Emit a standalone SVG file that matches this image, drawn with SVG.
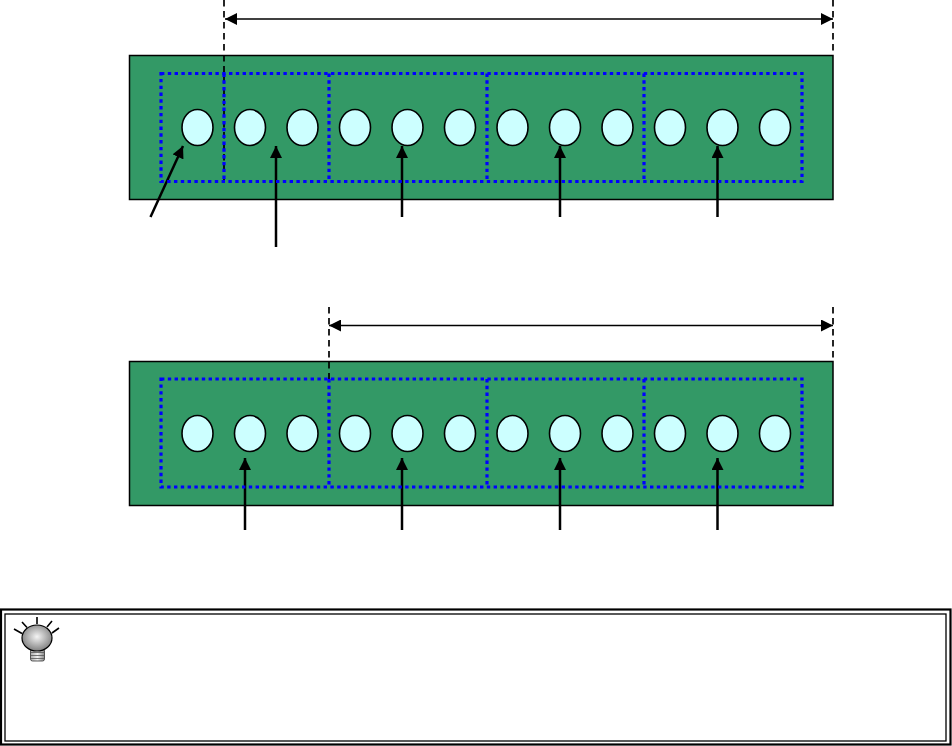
<svg xmlns="http://www.w3.org/2000/svg" width="952" height="746" viewBox="0 0 952 746">
<style>
.board{fill:#339966;stroke:#000;stroke-width:1.500}
.led{fill:#ccffff;stroke:#000;stroke-width:1.600}
.blue{fill:none;stroke:#0000ff;stroke-width:3.200;stroke-dasharray:3.400 3.400}
.dash{fill:none;stroke:#000;stroke-width:1.700;stroke-dasharray:6.500 4.500}
.dim{fill:none;stroke:#000;stroke-width:1.400;marker-start:url(#hs);marker-end:url(#he)}
.arr{fill:none;stroke:#000;stroke-width:2.500;marker-end:url(#ha)}
</style>
<defs>
<marker id="he" markerUnits="userSpaceOnUse" markerWidth="12" markerHeight="12" refX="12" refY="6" orient="auto"><path d="M0 0L12 6L0 12Z"/></marker>
<marker id="hs" markerUnits="userSpaceOnUse" markerWidth="12" markerHeight="12" refX="0" refY="6" orient="auto"><path d="M12 0L0 6L12 12Z"/></marker>
<marker id="ha" markerUnits="userSpaceOnUse" markerWidth="12" markerHeight="12" refX="12" refY="6" orient="auto"><path d="M0 0L12 6L0 12Z"/></marker>
<radialGradient id="bulb" cx="0.5" cy="0.45" r="0.55"><stop offset="0" stop-color="#f4f4f4"/><stop offset="1" stop-color="#808080"/></radialGradient>
<linearGradient id="base" x1="0" x2="1" y1="0" y2="0"><stop offset="0" stop-color="#aaa"/><stop offset="0.5" stop-color="#eee"/><stop offset="1" stop-color="#888"/></linearGradient>
</defs>
<g id="board-top">
<rect class="board" x="129.5" y="55.5" width="703.5" height="144"/>
<g id="leds-top">
<ellipse class="led" cx="197.5" cy="127.5" rx="15.5" ry="18"/><ellipse class="led" cx="250" cy="127.5" rx="15.5" ry="18"/><ellipse class="led" cx="302.5" cy="127.5" rx="15.5" ry="18"/><ellipse class="led" cx="355" cy="127.5" rx="15.5" ry="18"/><ellipse class="led" cx="407.5" cy="127.5" rx="15.5" ry="18"/><ellipse class="led" cx="460" cy="127.5" rx="15.5" ry="18"/><ellipse class="led" cx="512.5" cy="127.5" rx="15.5" ry="18"/><ellipse class="led" cx="565" cy="127.5" rx="15.5" ry="18"/><ellipse class="led" cx="617.5" cy="127.5" rx="15.5" ry="18"/><ellipse class="led" cx="670" cy="127.5" rx="15.5" ry="18"/><ellipse class="led" cx="722.5" cy="127.5" rx="15.5" ry="18"/><ellipse class="led" cx="775" cy="127.5" rx="15.5" ry="18"/>
</g>
</g>
<g id="board-bottom">
<rect class="board" x="129.5" y="361.5" width="703.5" height="144"/>
<g id="leds-bottom">
<ellipse class="led" cx="197.5" cy="433.5" rx="15.5" ry="18"/><ellipse class="led" cx="250" cy="433.5" rx="15.5" ry="18"/><ellipse class="led" cx="302.5" cy="433.5" rx="15.5" ry="18"/><ellipse class="led" cx="355" cy="433.5" rx="15.5" ry="18"/><ellipse class="led" cx="407.5" cy="433.5" rx="15.5" ry="18"/><ellipse class="led" cx="460" cy="433.5" rx="15.5" ry="18"/><ellipse class="led" cx="512.5" cy="433.5" rx="15.5" ry="18"/><ellipse class="led" cx="565" cy="433.5" rx="15.5" ry="18"/><ellipse class="led" cx="617.5" cy="433.5" rx="15.5" ry="18"/><ellipse class="led" cx="670" cy="433.5" rx="15.5" ry="18"/><ellipse class="led" cx="722.5" cy="433.5" rx="15.5" ry="18"/><ellipse class="led" cx="775" cy="433.5" rx="15.5" ry="18"/>
</g>
</g>
<g id="connectors">
<path class="dash" d="M224 0V181M833 0V55"/>
<path class="dim" d="M225 19H833"/>
<path class="dash" d="M329 307V379M833 307V361"/>
<path class="dim" d="M329 325.500H833"/>
<path class="arr" d="M150.500 217L183 146"/>
<path class="arr" d="M276 247V146"/>
<path class="arr" d="M402 217V146"/>
<path class="arr" d="M560 217V146"/>
<path class="arr" d="M717.500 217V146"/>
<path class="arr" d="M245 530V458"/>
<path class="arr" d="M402 530V458"/>
<path class="arr" d="M560 530V458"/>
<path class="arr" d="M717.500 530V458"/>
</g>
<g id="groups-top">
<rect class="blue" x="161" y="73.500" width="641" height="108"/>
<path class="blue" d="M224 73.500V181.500M329 73.500V181.500M487 73.500V181.500M644 73.500V181.500"/>
</g>
<g id="groups-bottom">
<rect class="blue" x="161" y="379" width="641" height="108"/>
<path class="blue" d="M329 379V487M487 379V487M644 379V487"/>
</g>
<g id="note">
<rect x="1" y="609.500" width="949.500" height="135" fill="none" stroke="#000" stroke-width="2.200"/>
<rect x="5" y="614" width="941" height="127" fill="none" stroke="#000" stroke-width="1.300"/>
<g id="bulb-icon">
<path d="M37 617V624M22 622L27 627.500M52 621L47 627M14 629L22 633.500M59 628L52 633" stroke="#000" stroke-width="1.600" fill="none"/>
<rect x="30.500" y="649" width="14" height="12" rx="2" fill="url(#base)" stroke="#333" stroke-width="0.800"/>
<path d="M30.500 652.500H44.500M30.500 655.500H44.500M30.500 658.500H44.500" stroke="#555" stroke-width="0.800"/>
<ellipse cx="37" cy="638" rx="15" ry="13" fill="url(#bulb)" stroke="#000" stroke-width="1.200"/>
</g>
</g>
</svg>
